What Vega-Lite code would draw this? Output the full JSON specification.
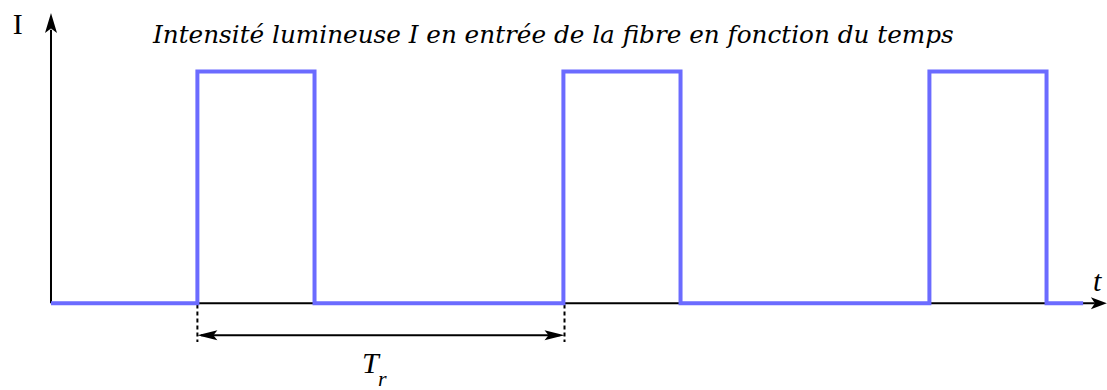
{
  "$schema": "https://vega.github.io/schema/vega-lite/v6.json",
  "width": 1107,
  "height": 390,
  "autosize": {"type": "fit", "contains": "padding"},
  "padding": 0,
  "background": "white",
  "config": {"view": {"stroke": null}},
  "datasets": {
    "signal": [
      {"t": 0, "I": 0, "o": 1},
      {"t": 4, "I": 0, "o": 2},
      {"t": 4, "I": 1, "o": 3},
      {"t": 7.2, "I": 1, "o": 4},
      {"t": 7.2, "I": 0, "o": 5},
      {"t": 14, "I": 0, "o": 6},
      {"t": 14, "I": 1, "o": 7},
      {"t": 17.2, "I": 1, "o": 8},
      {"t": 17.2, "I": 0, "o": 9},
      {"t": 24, "I": 0, "o": 10},
      {"t": 24, "I": 1, "o": 11},
      {"t": 27.2, "I": 1, "o": 12},
      {"t": 27.2, "I": 0, "o": 13},
      {"t": 28.2, "I": 0, "o": 14}
    ],
    "rules": [
      {"t1": 0, "t2": 28.52, "i1": 0, "i2": 0},
      {"t1": 0, "t2": 0, "i1": 0, "i2": 1.18},
      {"t1": 4.1, "t2": 13.9, "i1": -0.138, "i2": -0.138}
    ],
    "dashes": [
      {"t1": 4, "t2": 4, "i1": -0.005, "i2": -0.167},
      {"t1": 14.03, "t2": 14.03, "i1": -0.005, "i2": -0.167}
    ],
    "headUp": [{"t": 0, "I": 1.2096}],
    "headAxis": [{"t": 28.63, "I": 0}],
    "headLeft": [{"t": 4.273, "I": -0.138}],
    "headRight": [{"t": 13.757, "I": -0.138}],
    "title": [{"t": 2.787, "I": 1.1214, "label": "Intensité lumineuse I en entrée de la fibre en fonction du temps"}],
    "big": [
      {"t": 28.47, "I": 0.053, "label": "t"},
      {"t": 8.5, "I": -0.302, "label": "T"}
    ],
    "sub": [{"t": 8.934, "I": -0.356, "label": "r"}],
    "upright": [{"t": -0.91, "I": 1.16, "label": "I"}]
  },
  "layer": [
    {
      "data": {"name": "rules"},
      "mark": {"type": "rule", "color": "black", "strokeWidth": 2},
      "encoding": {
        "x": {"field": "t1", "type": "quantitative", "scale": {"domain": [-1.3934, 28.852], "nice": false, "zero": false}, "axis": null},
        "x2": {"field": "t2"},
        "y": {"field": "i1", "type": "quantitative", "scale": {"domain": [-0.3702, 1.3087], "nice": false, "zero": false}, "axis": null},
        "y2": {"field": "i2"}
      }
    },
    {
      "data": {"name": "dashes"},
      "mark": {"type": "rule", "color": "black", "strokeWidth": 2, "strokeDash": [4, 3]},
      "encoding": {
        "x": {"field": "t1", "type": "quantitative"},
        "x2": {"field": "t2"},
        "y": {"field": "i1", "type": "quantitative"},
        "y2": {"field": "i2"}
      }
    },
    {
      "data": {"name": "signal"},
      "mark": {"type": "line", "color": "#6b6bff", "strokeWidth": 4, "strokeJoin": "miter", "strokeCap": "butt"},
      "encoding": {
        "x": {"field": "t", "type": "quantitative"},
        "y": {"field": "I", "type": "quantitative"},
        "order": {"field": "o", "type": "quantitative"}
      }
    },
    {
      "data": {"name": "headUp"},
      "mark": {"type": "point", "filled": true, "opacity": 1, "strokeWidth": 0, "color": "black", "size": 400, "shape": "M0,-1L0.6,1L0,0.55L-0.6,1Z"},
      "encoding": {"x": {"field": "t", "type": "quantitative"}, "y": {"field": "I", "type": "quantitative"}}
    },
    {
      "data": {"name": "headAxis"},
      "mark": {"type": "point", "filled": true, "opacity": 1, "strokeWidth": 0, "color": "black", "size": 256, "shape": "M1,0L-1,-0.75L-0.5,0L-1,0.75Z"},
      "encoding": {"x": {"field": "t", "type": "quantitative"}, "y": {"field": "I", "type": "quantitative"}}
    },
    {
      "data": {"name": "headLeft"},
      "mark": {"type": "point", "filled": true, "opacity": 1, "strokeWidth": 0, "color": "black", "size": 400, "shape": "M-1,0L1,-0.5L0.6,0L1,0.5Z"},
      "encoding": {"x": {"field": "t", "type": "quantitative"}, "y": {"field": "I", "type": "quantitative"}}
    },
    {
      "data": {"name": "headRight"},
      "mark": {"type": "point", "filled": true, "opacity": 1, "strokeWidth": 0, "color": "black", "size": 400, "shape": "M1,0L-1,-0.5L-0.6,0L-1,0.5Z"},
      "encoding": {"x": {"field": "t", "type": "quantitative"}, "y": {"field": "I", "type": "quantitative"}}
    },
    {
      "data": {"name": "title"},
      "mark": {"type": "text", "align": "left", "baseline": "alphabetic", "font": "DejaVu Serif", "fontStyle": "italic", "fontSize": 24.7, "color": "black"},
      "encoding": {"x": {"field": "t", "type": "quantitative"}, "y": {"field": "I", "type": "quantitative"}, "text": {"field": "label"}}
    },
    {
      "data": {"name": "big"},
      "mark": {"type": "text", "align": "left", "baseline": "alphabetic", "font": "Liberation Serif", "fontStyle": "italic", "fontSize": 30, "color": "black"},
      "encoding": {"x": {"field": "t", "type": "quantitative"}, "y": {"field": "I", "type": "quantitative"}, "text": {"field": "label"}}
    },
    {
      "data": {"name": "sub"},
      "mark": {"type": "text", "align": "left", "baseline": "alphabetic", "font": "Liberation Serif", "fontStyle": "italic", "fontSize": 22, "color": "black"},
      "encoding": {"x": {"field": "t", "type": "quantitative"}, "y": {"field": "I", "type": "quantitative"}, "text": {"field": "label"}}
    },
    {
      "data": {"name": "upright"},
      "mark": {"type": "text", "align": "center", "baseline": "alphabetic", "font": "Liberation Serif", "fontSize": 30, "color": "black"},
      "encoding": {"x": {"field": "t", "type": "quantitative"}, "y": {"field": "I", "type": "quantitative"}, "text": {"field": "label"}}
    }
  ]
}
